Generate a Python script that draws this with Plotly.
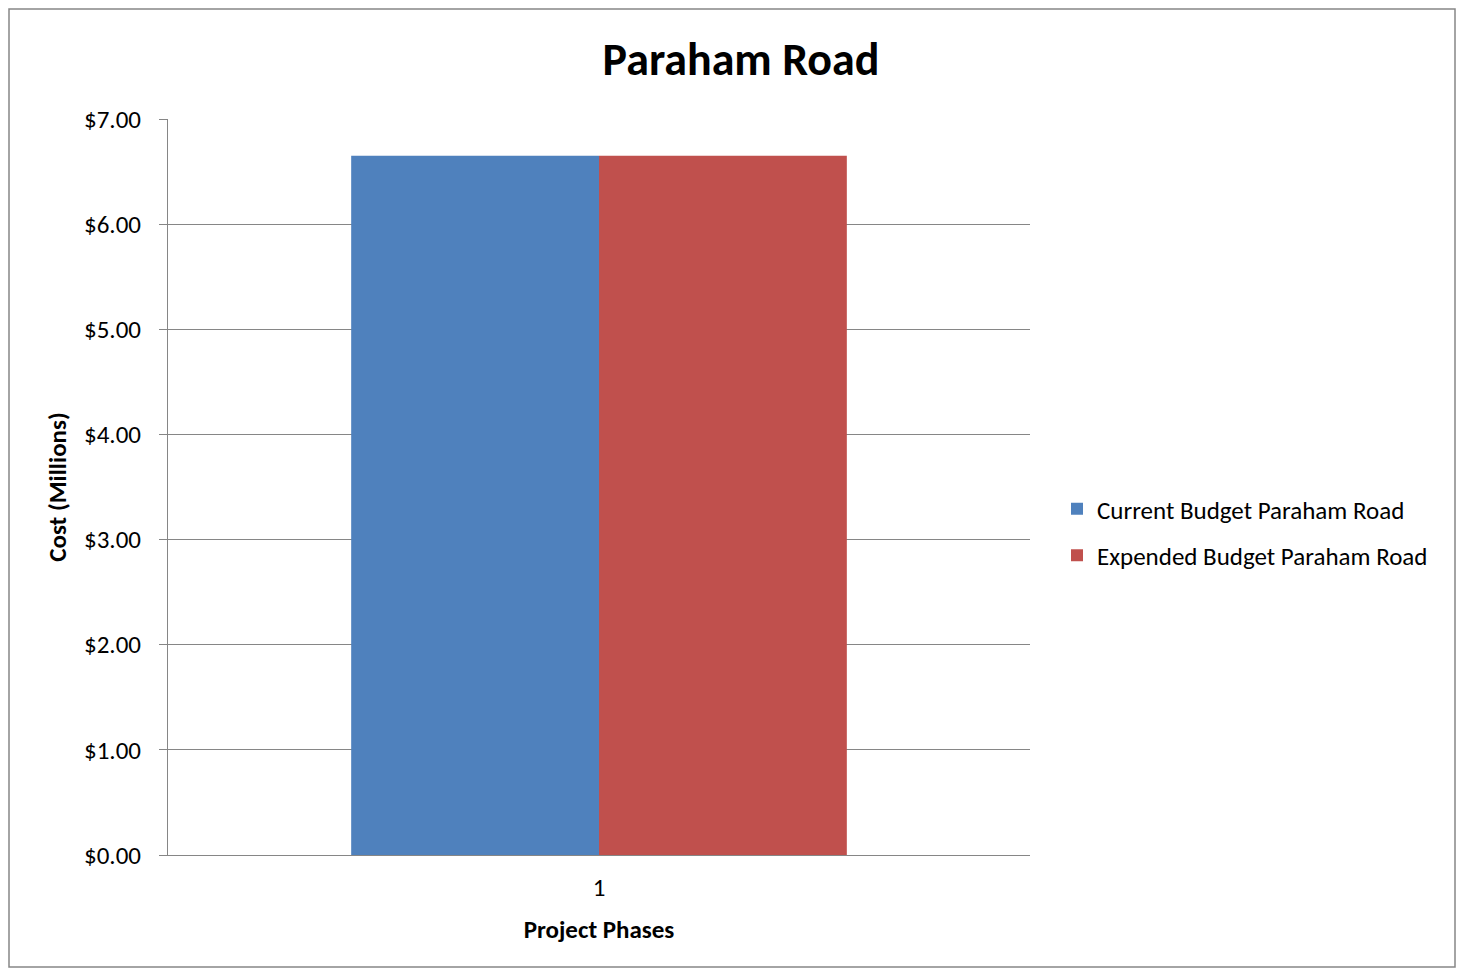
import plotly.graph_objects as go

# ---------------------------------------------------------------------------
# Data
# ---------------------------------------------------------------------------
PHASES = ["1"]
CURRENT_BUDGET = [6.65]
EXPENDED_BUDGET = [6.65]

COLORS = {
    "current": "#4F81BD",
    "expended": "#C0504D",
    "grid": "#868686",
    "text": "#000000",
}
FONT = "Carlito, Calibri, Lato, sans-serif"

# the page body has an 8px margin, so the figure is drawn 8px in from the corner
OFF = 8
W, H = 1464 - 2 * OFF, 976 - 2 * OFF
# plot area in figure pixels
L, T = 168 - OFF, 119 - OFF
R, B = W - (1030 - OFF), H - (855 - OFF)
PW, PH = W - L - R, H - T - B

fig = go.Figure()
fig.add_trace(go.Bar(
    x=PHASES, y=CURRENT_BUDGET,
    name="Current Budget Paraham Road",
    marker=dict(color=COLORS["current"], line=dict(width=0)),
    legendgroup="a",
))
fig.add_trace(go.Bar(
    x=PHASES, y=EXPENDED_BUDGET,
    name="Expended Budget Paraham Road",
    marker=dict(color=COLORS["expended"], line=dict(width=0)),
    legendgroup="b",
))

fig.update_layout(
    width=W, height=H,
    margin=dict(l=L, r=R, t=T, b=B, autoexpand=False),
    paper_bgcolor="white",
    plot_bgcolor="white",
    font=dict(family=FONT, size=25, color=COLORS["text"]),
    barmode="group",
    bargap=0.425,
    bargroupgap=0,
    title=dict(
        text="<b>Paraham Road</b>",
        x=(741 - OFF) / W, xanchor="center",
        y=1 - (59 - OFF) / H, yanchor="middle",
        font=dict(size=46, family=FONT),
    ),
    legend=dict(
        x=(1057 - OFF - L) / PW, xanchor="left",
        y=(855 - 532) / PH, yanchor="middle",
        font=dict(size=25),
        tracegroupgap=11,
        itemsizing="constant",
    ),
    showlegend=True,
)

fig.update_yaxes(
    range=[0, 7], dtick=1,
    tickprefix="$", tickformat=".2f",
    showgrid=True, gridcolor=COLORS["grid"], gridwidth=1,
    showline=True, linecolor=COLORS["grid"], linewidth=1,
    ticks="outside", ticklen=8, tickcolor=COLORS["grid"],
    ticklabelstandoff=13,
    zeroline=False,
    title=dict(text="<b>Cost (Millions)</b>", font=dict(size=25), standoff=10),
)
fig.update_xaxes(
    showline=True, linecolor=COLORS["grid"], linewidth=1,
    ticks="", showgrid=False,
    ticklabelstandoff=10,
    title=dict(text="<b>Project Phases</b>", font=dict(size=25), standoff=18),
)

# outer chart border
fig.add_shape(
    type="rect", xref="paper", yref="paper",
    x0=(1 - L) / PW, x1=(W - 1 - L) / PW,
    y0=-(B - 1) / PH, y1=(PH + T - 1) / PH,
    line=dict(color=COLORS["grid"], width=1.5),
    fillcolor="rgba(0,0,0,0)", layer="below",
)

fig.write_html("out.html")
